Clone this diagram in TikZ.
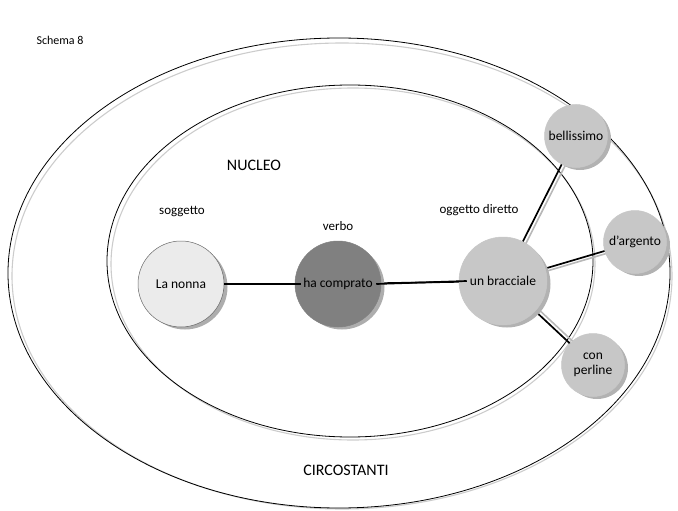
\documentclass[tikz,border=0pt]{standalone}
\usepackage{fontspec}
\setmainfont{Carlito}
\begin{document}
\begin{tikzpicture}[x=1pt,y=-1pt,
  ring/.style={draw=black,line width=0.8pt},
  ringshadow/.style={draw=black!20,line width=1.1pt},
  bubble/.style={circle,draw=black!45,line width=0.5pt,inner sep=0pt,font=\fontsize{13.5}{15}\selectfont,align=center},
  bubbleshadow/.style={circle,fill=black!32,inner sep=0pt},
  link/.style={line width=1.7pt,black},
  linkshadow/.style={line width=1.6pt,black!28},
  lbl/.style={font=\fontsize{13}{15}\selectfont}]
\useasboundingbox (0,0) rectangle (678,511);
% outer and inner rings with their soft offset
\draw[ringshadow] (342,276) ellipse [x radius=330,y radius=233];
\draw[ring] (339,273) ellipse [x radius=331,y radius=235];
\draw[ringshadow] (353,264) ellipse [x radius=242,y radius=176];
\draw[ring] (350,261) ellipse [x radius=243,y radius=176];
% labels
\node[font=\fontsize{12}{14}\selectfont] (title) at (60,40) {Schema 8};
\node[font=\fontsize{16}{18}\selectfont] (nucleo) at (254,165) {NUCLEO};
\node[lbl] (lsogg) at (182,212) {soggetto};
\node[lbl] (lverbo) at (338,226) {verbo};
\node[lbl] (logg) at (479,210) {oggetto diretto};
\node[font=\fontsize{16}{18}\selectfont] (circ) at (346,470) {CIRCOSTANTI};
% node positions
\coordinate (pn) at (181,284);
\coordinate (pv) at (338,284);
\coordinate (pb) at (503,281);
\coordinate (pbel) at (576,136);
\coordinate (parg) at (635,242);
\coordinate (pper) at (593,365);
% connectors
\draw[link] (pn) -- (pv);
\draw[link] (pv) -- (pb);
\draw[linkshadow] ([xshift=4pt]pb) -- ([xshift=4pt]pbel);
\draw[link] (pb) -- (pbel);
\draw[linkshadow] ([yshift=-3pt]pb) -- ([yshift=-3pt]parg);
\draw[link] (pb) -- (parg);
\draw[linkshadow] ([xshift=3pt,yshift=2pt]pb) -- ([xshift=3pt,yshift=2pt]pper);
\draw[link] (pb) -- (pper);
% bubble shadows
\node[bubbleshadow,minimum size=85pt] (sn) at ([xshift=4pt,yshift=-3pt]pn) {};
\node[bubbleshadow,minimum size=85pt] (sv) at ([xshift=4pt,yshift=-3pt]pv) {};
\node[bubbleshadow,fill=black!30,minimum size=87pt] (sb) at ([xshift=4pt,yshift=-3pt]pb) {};
\node[bubbleshadow,fill=black!30,minimum size=62pt] (sbel) at ([xshift=4pt,yshift=-3pt]pbel) {};
\node[bubbleshadow,fill=black!30,minimum size=62pt] (sarg) at ([xshift=4pt,yshift=-3pt]parg) {};
\node[bubbleshadow,fill=black!30,minimum size=62pt] (sper) at ([xshift=4pt,yshift=-3pt]pper) {};
% bubbles
\node[bubble,fill=black!8,draw=black!60,minimum size=86pt] (nonna) at (pn) {La nonna};
\node[bubble,fill=black!50,draw=black!50,minimum size=86pt] (verbo) at (pv) {ha comprato};
\node[bubble,fill=black!22,draw=black!22,minimum size=88pt] (bracc) at (pb) {un bracciale};
\node[bubble,fill=black!22,draw=black!22,minimum size=63pt] (bel) at (pbel) {bellissimo};
\node[bubble,fill=black!22,draw=black!22,minimum size=63pt] (arg) at (parg) {d’argento};
\node[bubble,fill=black!22,draw=black!22,minimum size=63pt] (per) at (pper) {con\\perline};
% link ends run on into the bubbles up to their text
\draw[link] (nonna.east) -- ([xshift=6pt]verbo.west);
\draw[link] ([xshift=-5pt]verbo.east) -- ([xshift=8pt]bracc.west);
\end{tikzpicture}
\end{document}
